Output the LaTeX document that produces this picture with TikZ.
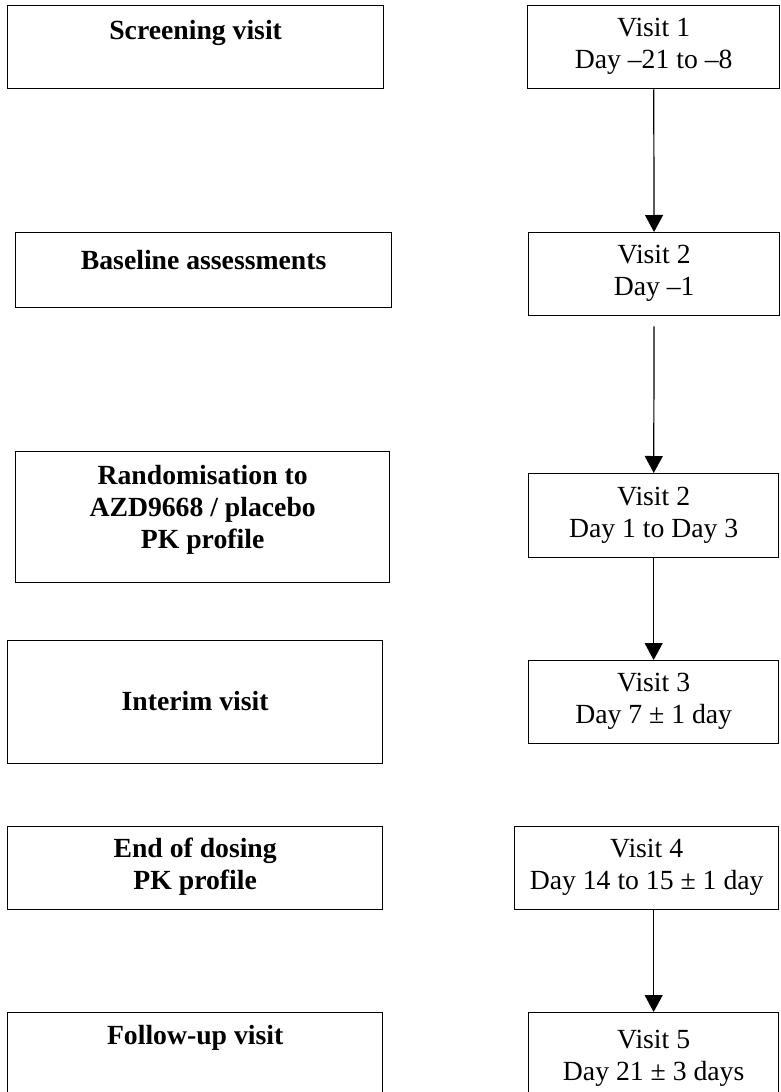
\documentclass[tikz,border=0pt]{standalone}
\usepackage{fontspec}
\setmainfont{Liberation Serif}
\usepackage{tikz}
\usetikzlibrary{arrows.meta}
\newcommand{\boxfont}{\fontsize{27.7}{32}\selectfont}
\tikzset{box/.style={draw, line width=1.3pt, anchor=north west, inner sep=0pt}}
\tikzset{visit/.style={align=center, font=\boxfont}}
\tikzset{phase/.style={align=center, font=\boxfont\bfseries}}
\tikzset{flow/.style={line width=1.2pt, -{Triangle[width=18pt,length=17pt]}}}

\begin{document}
\begin{tikzpicture}[x=1pt,y=-1pt]
  \useasboundingbox (0,0) rectangle (780,1092);
  \foreach \lab/\x/\y/\w/\h/\ty/\txt in {
    scr/7/5/376/83/33/{Screening visit},
    base/15/232/376/75/260/{Baseline assessments},
    rand/15/451/374/131/510/{Randomisation to\\AZD9668 / placebo\\PK profile},
    intr/7/640/375/123/701/{Interim visit},
    eod/7/826/375/83/867/{End of dosing\\PK profile},
    fup/7/1012/375/92/1038/{Follow-up visit}%
  } {
    \node[box, minimum width=\w pt, minimum height=\h pt] (\lab) at (\x, \y) {};
    \node[phase] (\lab-t) at (\lab.north |- 0,\ty) {\txt};
  }
  \foreach \lab/\x/\y/\w/\h/\txt in {
    v1/527/5/252/83/{Visit 1\\Day --21 to --8},
    v2/528/232/251/83/{Visit 2\\Day --1},
    v2b/528/473/250/84/{Visit 2\\Day 1 to Day 3},
    v3/528/660/250/83/{Visit 3\\Day 7 ± 1 day},
    v4/514/826/264/83/{Visit 4\\Day 14 to 15 ± 1 day},
    v5/528/1012/250/92/{Visit 5\\Day 21 ± 3 days}%
  } {
    \node[box, minimum width=\w pt, minimum height=\h pt] (\lab) at (\x, \y) {};
    \node[visit] (\lab-t) at (\lab.north |- 0,\y+\h/2) {\txt};
  }
  \draw[flow] (v1) -- (v2);
  \draw[flow, shorten <=10pt] (v2) -- (v2b);
  \draw[flow] (v2b) -- (v3);
  \draw[flow] (v4.south -| v5.north) -- (v5.north);
\end{tikzpicture}
\end{document}
